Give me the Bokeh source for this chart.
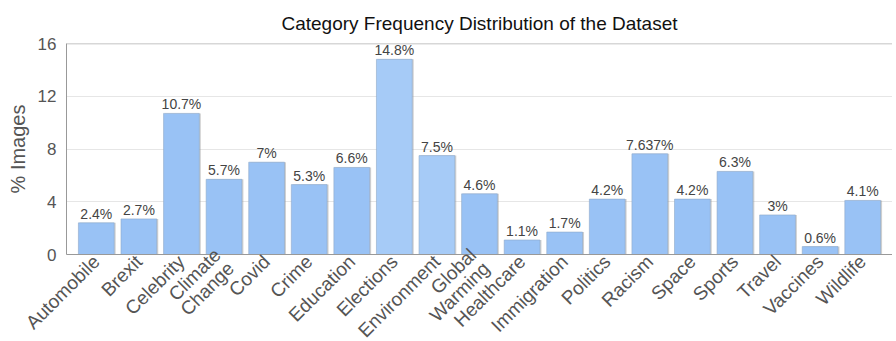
from math import pi
from bokeh.plotting import figure
from bokeh.models import ColumnDataSource, FactorRange, FixedTicker, LabelSet
from bokeh.core.properties import value
from bokeh.transform import dodge
from bokeh.embed import file_html
from bokeh.resources import INLINE

categories = ["Automobile", "Brexit", "Celebrity", "Climate\nChange", "Covid", "Crime",
              "Education", "Elections", "Environment", "Global\nWarming", "Healthcare",
              "Immigration", "Politics", "Racism", "Space", "Sports", "Travel", "Vaccines",
              "Wildlife"]
values = [2.4, 2.7, 10.7, 5.7, 7, 5.3, 6.6, 14.8, 7.5, 4.6, 1.1, 1.7, 4.2, 7.637, 4.2, 6.3, 3, 0.6, 4.1]
value_labels = ["2.4%", "2.7%", "10.7%", "5.7%", "7%", "5.3%", "6.6%", "14.8%", "7.5%", "4.6%",
                "1.1%", "1.7%", "4.2%", "7.637%", "4.2%", "6.3%", "3%", "0.6%", "4.1%"]
y_ticks = [0, 4, 8, 12, 16]

colors = ["#a6cbf7" if c in ("Elections", "Environment") else "#99c2f5" for c in categories]

src = ColumnDataSource(dict(cat=categories, val=values, lab=value_labels, color=colors))

FONT = "Liberation Sans"

p = figure(frame_width=826, frame_height=211, output_backend="svg", toolbar_location=None,
           x_range=FactorRange(*categories, range_padding=0.2, range_padding_units="absolute"),
           y_range=(0, 16),
           title="Category Frequency Distribution of the Dataset",
           min_border_left=66, min_border_right=0, min_border_top=43, min_border_bottom=80)

p.title.text_font = FONT
p.title.text_font_size = "19px"
p.title.text_font_style = "normal"
p.title.text_color = "#111111"
p.title.align = "center"
p.title.offset = 0
p.title.standoff = 20

# shadow
p.vbar(x=dodge("cat", 0.035, range=p.x_range), top="val", bottom=-0.08, width=0.84,
       source=src, fill_color="#9a9a9a", fill_alpha=0.45, line_color=None)
p.vbar(x="cat", top="val", width=0.84, source=src, fill_color="color", line_color="#8fa9c9",
       line_width=0.6)

labels = LabelSet(x="cat", y="val", text="lab", source=src, text_align="center",
                  text_baseline="bottom", y_offset=1, text_font=value(FONT),
                  text_font_size="14px", text_color="#444444")
p.add_layout(labels)

p.yaxis.ticker = FixedTicker(ticks=y_ticks)
p.yaxis.axis_label = "% Images"
p.yaxis.axis_label_text_font = FONT
p.yaxis.axis_label_text_font_size = "20px"
p.yaxis.axis_label_text_font_style = "normal"
p.yaxis.axis_label_text_color = "#555555"
p.yaxis.axis_label_standoff = 6

for ax in (p.xaxis[0], p.yaxis[0]):
    ax.major_label_text_font = FONT
    ax.major_label_text_font_size = "17px"
    ax.major_label_text_color = "#555555"
    ax.major_tick_line_color = None
    ax.minor_tick_line_color = None
    ax.major_tick_in = 0
    ax.major_tick_out = 0
    ax.axis_line_color = "#999999"

p.yaxis.major_label_standoff = 10
p.xaxis.major_label_text_font_size = "19px"
p.xaxis.major_label_orientation = pi / 4
p.xaxis.major_label_standoff = 4
p.xaxis.major_label_text_line_height = 0.9

p.xgrid.grid_line_color = None
p.ygrid.grid_line_color = "#e6e6e6"
p.outline_line_color = None

p.hspan(y=[16], line_color="#b0b0b0", line_width=1.5)

open("out.html", "w").write(file_html(p, INLINE))
